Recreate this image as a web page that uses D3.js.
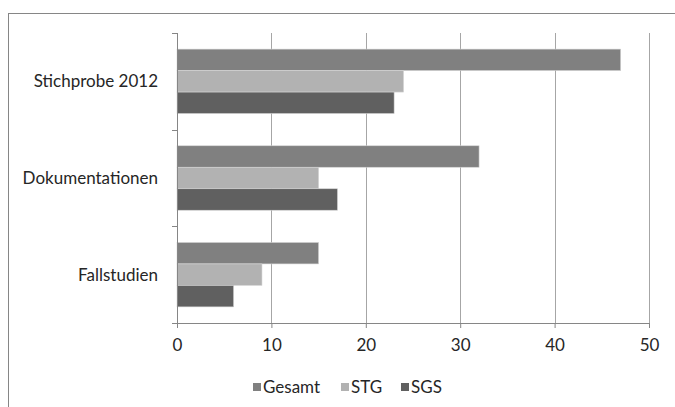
<!DOCTYPE html>
<html>
<head>
<meta charset="utf-8">
<script src="https://cdn.jsdelivr.net/npm/d3@7"></script>
<style>
  html, body { margin: 0; padding: 0; background: #fff; }
  svg { display: block; }
  text { font-family: Lato, "Open Sans", sans-serif; fill: #262626; }
</style>
</head>
<body>
<svg id="chart" width="675" height="407"></svg>
<script>
// Data
const categories = ["Stichprobe 2012", "Dokumentationen", "Fallstudien"];
const seriesNames = ["Gesamt", "STG", "SGS"];
const gesamt = [47, 32, 15];
const stg = [24, 15, 9];
const sgs = [23, 17, 6];
const xTicks = [0, 10, 20, 30, 40, 50];
const seriesColors = ["#808080", "#b2b2b2", "#606060"];

const seriesValues = [gesamt, stg, sgs];
const rows = categories.map((c, i) => ({
  category: c,
  values: seriesNames.map((s, j) => ({ series: s, value: seriesValues[j][i] }))
}));

const svg = d3.select("#chart");
const margin = { left: 177, right: 26, top: 33, bottom: 84 };
const W = 675, H = 407;
const plotW = W - margin.left - margin.right;
const plotH = H - margin.top - margin.bottom;
const fontSize = "17px";

// Outer chart frame
svg.append("rect")
  .attr("x", 8.5).attr("y", 13.5)
  .attr("width", 700).attr("height", 420)
  .attr("fill", "none").attr("stroke", "#868686").attr("stroke-width", 1);

const g = svg.append("g").attr("transform", `translate(${margin.left},${margin.top})`);

const x = d3.scaleLinear().domain([0, 50]).range([0, plotW]);
const y = d3.scaleBand().domain(categories).range([0, plotH]).paddingInner(0).paddingOuter(0);
const ySub = d3.scaleBand().domain(seriesNames).range([0, y.bandwidth()]).paddingInner(0).paddingOuter(0.75);

// Vertical gridlines
g.append("g")
  .selectAll("line")
  .data(xTicks.filter(t => t > 0))
  .join("line")
  .attr("x1", d => Math.round(x(d)) + 0.5).attr("x2", d => Math.round(x(d)) + 0.5)
  .attr("y1", 0).attr("y2", plotH)
  .attr("stroke", "#a6a6a6").attr("stroke-width", 1);

// Bars
const groups = g.append("g")
  .selectAll("g")
  .data(rows)
  .join("g")
  .attr("transform", d => `translate(0,${y(d.category)})`);

groups.selectAll("rect")
  .data(d => d.values)
  .join("rect")
  .attr("x", x(0))
  .attr("y", d => ySub(d.series))
  .attr("width", d => x(d.value) - x(0))
  .attr("height", ySub.bandwidth())
  .attr("fill", (d, i) => seriesColors[i])
  .attr("stroke", "#d4d4d4")
  .attr("stroke-width", 0.6);

// X axis
const xAxis = g.append("g")
  .attr("transform", `translate(0,${plotH})`)
  .call(d3.axisBottom(x).tickValues(xTicks).tickSize(5).tickPadding(11).tickFormat(d3.format("d")));
xAxis.select(".domain").attr("stroke", "#868686").attr("d", `M${-5},0.5H${plotW + 0.5}`);
xAxis.selectAll(".tick line").attr("stroke", "#868686");
xAxis.selectAll(".tick text").style("font-size", fontSize).attr("fill", "#262626");

// Y axis with ticks at category boundaries
const yAxisG = g.append("g");
yAxisG.append("line")
  .attr("x1", 0.5).attr("x2", 0.5).attr("y1", 0).attr("y2", plotH + 5)
  .attr("stroke", "#868686");
yAxisG.selectAll("line.tk")
  .data([0, 1, 2, 3])
  .join("line")
  .attr("class", "tk")
  .attr("x1", -5).attr("x2", 0.5)
  .attr("y1", d => Math.round(d * y.step()) + 0.5)
  .attr("y2", d => Math.round(d * y.step()) + 0.5)
  .attr("stroke", "#868686");
yAxisG.selectAll("text")
  .data(categories)
  .join("text")
  .attr("x", -19)
  .attr("y", d => y(d) + y.bandwidth() / 2)
  .attr("dy", "0.35em")
  .attr("text-anchor", "end")
  .style("font-size", fontSize)
  .text(d => d);

// Legend
const legendX = [253, 341, 401];
const legend = svg.append("g").attr("transform", "translate(0,387)");
const items = legend.selectAll("g")
  .data(seriesNames)
  .join("g")
  .attr("transform", (d, i) => `translate(${legendX[i]},0)`);
items.append("rect")
  .attr("x", 0).attr("y", -4).attr("width", 8).attr("height", 8)
  .attr("fill", (d, i) => seriesColors[i]);
items.append("text")
  .attr("x", 10).attr("y", 0).attr("dy", "0.35em")
  .style("font-size", fontSize)
  .text(d => d);
</script>
</body>
</html>
